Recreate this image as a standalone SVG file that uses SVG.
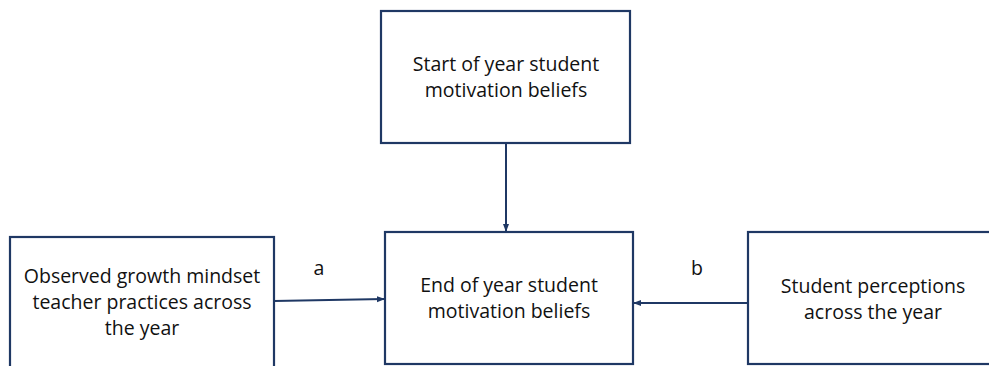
<svg xmlns="http://www.w3.org/2000/svg" width="989" height="366" viewBox="0 0 989 366">
<style>
.box{fill:#fff;stroke:#1f3864;stroke-width:2.2}
.t{font-family:"Open Sans","Liberation Sans",sans-serif;font-size:19.5px;fill:#111;text-anchor:middle}
.c{stroke:#1f3864;stroke-width:2;fill:none}
</style>
<defs>
<marker id="ah" markerWidth="8" markerHeight="8" refX="7" refY="4" orient="auto" markerUnits="userSpaceOnUse">
<path d="M0,1 L8,4 L0,7 Z" fill="#1f3864"/>
</marker>
</defs>
<rect width="989" height="366" fill="#fff"/>
<g id="start">
<rect class="box" x="381" y="11" width="249" height="132"/>
<text class="t" x="506" y="71">Start of year student</text>
<text class="t" x="506" y="97">motivation beliefs</text>
</g>
<g id="observed">
<rect class="box" x="10" y="237" width="264" height="140"/>
<text class="t" x="142" y="283">Observed growth mindset</text>
<text class="t" x="142" y="309">teacher practices across</text>
<text class="t" x="142" y="335">the year</text>
</g>
<g id="end">
<rect class="box" x="385" y="232" width="248" height="132"/>
<text class="t" x="509" y="292">End of year student</text>
<text class="t" x="509" y="318">motivation beliefs</text>
</g>
<g id="perceptions">
<rect class="box" x="748" y="232" width="260" height="132"/>
<text class="t" x="873" y="293">Student perceptions</text>
<text class="t" x="873" y="319">across the year</text>
</g>
<g id="connectors">
<line class="c" x1="506" y1="143" x2="506" y2="231" marker-end="url(#ah)"/>
<line class="c" x1="274" y1="301" x2="384" y2="299" marker-end="url(#ah)"/>
<line class="c" x1="748" y1="303" x2="634" y2="303" marker-end="url(#ah)"/>
<text class="t" x="319" y="275">a</text>
<text class="t" x="697" y="275">b</text>
</g>
</svg>
